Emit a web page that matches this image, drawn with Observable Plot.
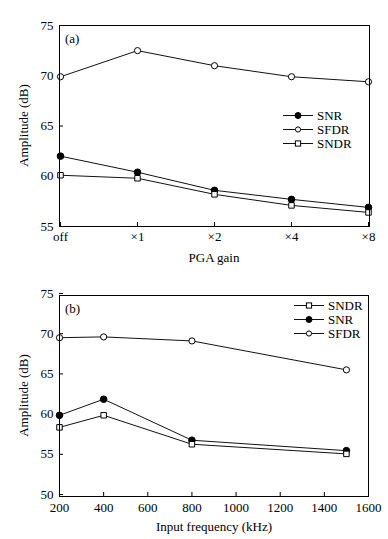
<!DOCTYPE html>
<html><head><meta charset="utf-8">
<script src="https://cdn.jsdelivr.net/npm/d3@7"></script>
<script src="https://cdn.jsdelivr.net/npm/@observablehq/plot@0.6"></script>
<style>
body{margin:0;background:#fff;}
svg{display:block;}
</style>
</head><body>
<div id="chart"></div>
<script>
// Panel (a): PGA gain
const gainLabels = ["off", "×1", "×2", "×4", "×8"];
const snrA  = [62.0, 60.4, 58.6, 57.7, 56.9];
const sfdrA = [69.9, 72.5, 71.0, 69.9, 69.4];
const sndrA = [60.1, 59.8, 58.2, 57.1, 56.4];
const yTicksA = [55, 60, 65, 70, 75];

// Panel (b): input frequency
const freqs = [200, 400, 800, 1500];
const sndrB = [58.6, 60.1, 56.5, 55.3];
const snrB  = [60.1, 62.1, 57.0, 55.7];
const sfdrB = [69.75, 69.85, 69.35, 65.75];
const yTicksB = [50, 55, 60, 65, 70, 75];
const xTicksB = [200, 400, 600, 800, 1000, 1200, 1400, 1600];

const FONT = "'Liberation Serif', 'Times New Roman', serif";
const style = {fontFamily: FONT, fontSize: "13px", background: "white", color: "black", overflow: "visible"};

const markerStyle = {
  SNR:  {symbol: "circle", fill: "black", r: 3.3, lr: 3},
  SFDR: {symbol: "circle", fill: "white", r: 3.1, lr: 2.6},
  SNDR: {symbol: "square", fill: "white", r: 3.1, lr: 2.6}
};

function rows(xs, series) {
  const out = [];
  for (const [name, vals] of series) xs.forEach((x, i) => out.push({x, y: vals[i], s: name}));
  return out;
}

function seriesMarks(data, names) {
  const m = [];
  for (const n of names) {
    const d = data.filter(r => r.s === n);
    m.push(Plot.line(d, {x: "x", y: "y", stroke: "#111", strokeWidth: 1}));
  }
  for (const n of names) {
    const d = data.filter(r => r.s === n);
    const ms = markerStyle[n];
    m.push(Plot.dot(d, {x: "x", y: "y", symbol: ms.symbol, r: ms.r, fill: ms.fill, stroke: "black", strokeWidth: 1}));
  }
  return m;
}

function addDecor(svg, {tag, xlabel, xlabelY, legend, legendX, legendY, legendStep}) {
  const s = d3.select(svg);
  const g = s.append("g").attr("font-family", FONT).attr("font-size", 13).attr("fill", "black").attr("text-anchor", "start");
  g.append("text").attr("x", 65).attr("y", 38).attr("dy", "0.35em").attr("text-anchor", "start").text(tag);
  g.append("text").attr("x", 214).attr("y", xlabelY).attr("text-anchor", "middle").attr("dy", "0.35em").text(xlabel);
  g.append("text").attr("transform", `translate(23,125.5) rotate(-90)`).attr("text-anchor", "middle").attr("dy", "0.35em").text("Amplitude (dB)");
  legend.forEach((n, i) => {
    const y = legendY + i * legendStep;
    const x0 = legendX, x1 = legendX + 30, xm = (x0 + x1) / 2;
    g.append("line").attr("x1", x0).attr("x2", x1).attr("y1", y).attr("y2", y).attr("stroke", "#111").attr("stroke-width", 1);
    const ms = markerStyle[n];
    if (ms.symbol === "square") {
      g.append("rect").attr("x", xm - ms.lr).attr("y", y - ms.lr).attr("width", 2 * ms.lr).attr("height", 2 * ms.lr).attr("fill", "white").attr("stroke", "black");
    } else {
      g.append("circle").attr("cx", xm).attr("cy", y).attr("r", ms.lr).attr("fill", ms.fill).attr("stroke", "black");
    }
    g.append("text").attr("x", x1 + 4).attr("y", y).attr("dy", "0.35em").attr("text-anchor", "start").text(n);
  });
}

const dataA = rows(gainLabels, [["SNR", snrA], ["SFDR", sfdrA], ["SNDR", sndrA]]);
const plotA = Plot.plot({
  width: 388, height: 270,
  marginTop: 25, marginBottom: 44, marginLeft: 59, marginRight: 19,
  style,
  x: {type: "point", domain: gainLabels, padding: 0, label: null},
  y: {domain: [55, 75], label: null},
  marks: [
    Plot.axisX({tickSize: -4, tickPadding: 9, label: null}),
    Plot.axisY({ticks: yTicksA, tickSize: -4, tickPadding: 10, label: null}),
    ...seriesMarks(dataA, ["SFDR", "SNR", "SNDR"]),
    Plot.frame({stroke: "black", strokeWidth: 1})
  ]
});
addDecor(plotA, {tag: "(a)", xlabel: "PGA gain", xlabelY: 257,
  legend: ["SNR", "SFDR", "SNDR"], legendX: 283, legendY: 115.5, legendStep: 14});

const dataB = rows(freqs, [["SNDR", sndrB], ["SNR", snrB], ["SFDR", sfdrB]]);
const plotB = Plot.plot({
  width: 388, height: 269,
  marginTop: 25, marginBottom: 43, marginLeft: 59, marginRight: 20,
  style,
  x: {domain: [200, 1600], label: null},
  y: {domain: [50, 75], label: null},
  marks: [
    Plot.axisX({ticks: xTicksB, tickFormat: d => String(d), tickSize: -4, tickPadding: 10, label: null}),
    Plot.axisY({ticks: yTicksB, tickSize: -4, tickPadding: 10, label: null, dy: -2}),
    ...seriesMarks(dataB, ["SFDR", "SNR", "SNDR"]),
    Plot.frame({stroke: "black", strokeWidth: 1})
  ]
});
addDecor(plotB, {tag: "(b)", xlabel: "Input frequency (kHz)", xlabelY: 256,
  legend: ["SNDR", "SNR", "SFDR"], legendX: 294, legendY: 35.5, legendStep: 14});

const chart = document.getElementById("chart");
chart.append(plotA, plotB);
</script>
</body></html>
